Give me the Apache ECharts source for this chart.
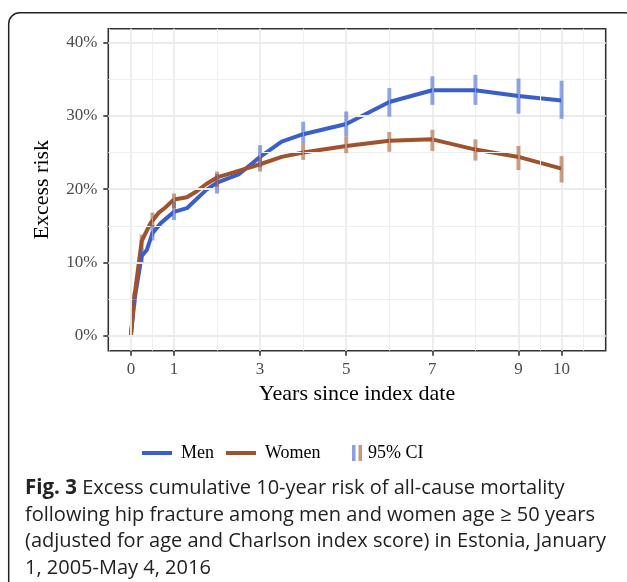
<!DOCTYPE html>
<html><head><meta charset="utf-8">
<script src="https://cdn.jsdelivr.net/npm/echarts@6/dist/echarts.min.js"></script>
<style>html,body{margin:0;padding:0;background:#fff}#c{width:627px;height:582px}</style>
</head><body><div id="c"></div>
<script>
// ---- data ----
const menT   = [0, 0.083, 0.25, 0.37, 0.5, 0.7, 1.0, 1.3, 1.75, 2.0, 2.5, 3.0, 3.5, 4.0, 5.0, 6.0, 7.0, 8.0, 9.0, 10.0];
const menV   = [0, 4.9, 10.9, 11.7, 14.0, 15.4, 16.9, 17.4, 19.9, 20.9, 22.0, 24.4, 26.5, 27.5, 28.9, 31.9, 33.5, 33.5, 32.7, 32.1];
const womenT = [0, 0.083, 0.25, 0.45, 0.65, 0.8, 1.0, 1.3, 1.5, 1.75, 2.0, 2.5, 3.0, 3.5, 4.0, 5.0, 6.0, 7.0, 8.0, 9.0, 10.0];
const womenV = [0, 5.4, 12.9, 15.3, 16.8, 17.5, 18.6, 18.9, 19.6, 20.7, 21.6, 22.5, 23.4, 24.4, 25.0, 25.9, 26.6, 26.8, 25.4, 24.4, 22.8];
const ciT      = [0.083, 0.25, 0.5, 1, 2, 3, 4, 5, 6, 7, 8, 9, 10];
const menLo    = [4.1, 10.0, 13.0, 15.8, 19.4, 23.0, 26.2, 27.2, 29.9, 31.5, 31.5, 30.3, 29.6];
const menHi    = [5.6, 11.9, 15.1, 18.3, 22.1, 26.0, 29.2, 30.6, 33.8, 35.4, 35.6, 35.1, 34.8];
const womenLo  = [4.6, 11.8, 14.9, 17.4, 20.3, 22.4, 24.0, 24.9, 25.1, 25.2, 23.9, 22.6, 20.9];
const womenHi  = [6.0, 13.8, 16.8, 19.4, 22.4, 24.4, 26.2, 27.2, 27.8, 28.1, 26.8, 25.9, 24.5];
const xTicks = [0, 1, 3, 5, 7, 9, 10];
const xMinorGrid = [-0.5, 0.5, 2, 4, 6, 8, 9.5, 10.5];
const yTicks = [0, 10, 20, 30, 40];
const yMinorGrid = [5, 15, 25, 35];
const seriesNames = ['Men', 'Women'];
const ciLabel = '95% CI';
const xTitle = 'Years since index date';
const yTitle = 'Excess risk';
const caption = 'Excess cumulative 10-year risk of all-cause mortality\nfollowing hip fracture among men and women age \u2265 50 years\n(adjusted for age and Charlson index score) in Estonia, January\n1, 2005-May 4, 2016';
const captionLead = 'Fig. 3';

// ---- styles ----
const BLUE = '#3a5fcd', BROWN = '#a0522d';
const BLUE_CI = 'rgba(58,95,205,0.55)', BROWN_CI = 'rgba(160,82,45,0.55)';
const SERIF = '"Liberation Serif", "DejaVu Serif", serif';
const GRID_C = '#ebebeb';

const zip = (a, b) => a.map((v, i) => [v, b[i]]);
const ciData = (lo, hi) => ciT.map((t, i) => [t, lo[i], hi[i]]);

function ciRender(color) {
  return function (params, api) {
    const t = api.value(0);
    const top = api.coord([t, api.value(2)]);
    const bot = api.coord([t, api.value(1)]);
    const w = 4;
    return { type: 'rect', shape: { x: top[0] - w / 2, y: top[1], width: w, height: bot[1] - top[1] },
             style: { fill: color } };
  };
}

const major = { type: 'solid', width: 1.8, color: GRID_C };
const minor = { type: 'solid', width: 1, color: '#efefef' };
const gridLines = []
  .concat(xTicks.map(v => ({ xAxis: v, lineStyle: major })))
  .concat(xMinorGrid.map(v => ({ xAxis: v, lineStyle: minor })))
  .concat(yTicks.map(v => ({ yAxis: v, lineStyle: major })))
  .concat(yMinorGrid.map(v => ({ yAxis: v, lineStyle: minor })));

const chart = echarts.init(document.getElementById('c'));
chart.setOption({
  animation: false,
  backgroundColor: '#fff',
  grid: { left: 108.3, top: 28.7, right: 21.3, bottom: 231.3, show: true, borderColor: '#333', borderWidth: 1.6, backgroundColor: 'transparent' },
  xAxis: {
    type: 'value', min: -0.525, max: 11.025,
    axisLine: { show: false, onZero: false },
    axisTick: { show: true, customValues: xTicks, length: 5, lineStyle: { color: '#333', width: 1.6 } },
    axisLabel: { customValues: xTicks, margin: 10, color: '#4d4d4d', fontFamily: SERIF, fontSize: 17 },
    splitLine: { show: false }, minorSplitLine: { show: false },
    name: xTitle, nameLocation: 'middle', nameGap: 33,
    nameTextStyle: { fontFamily: SERIF, fontSize: 22, color: '#000' }
  },
  yAxis: {
    type: 'value', min: -2.05, max: 41.9,
    axisLine: { show: false, onZero: false },
    axisTick: { show: true, customValues: yTicks, length: 5, lineStyle: { color: '#333', width: 1.6 } },
    axisLabel: { customValues: yTicks, margin: 11, color: '#4d4d4d', fontFamily: SERIF, fontSize: 17, formatter: v => v + '%' },
    splitLine: { show: false }, minorSplitLine: { show: false },
    name: yTitle, nameLocation: 'middle', nameGap: 55, nameRotate: 90,
    nameTextStyle: { fontFamily: SERIF, fontSize: 22, color: '#000' }
  },
  legend: {
    data: seriesNames, left: 142, top: 444, itemWidth: 30, itemHeight: 4, itemGap: 12, icon: 'rect',
    padding: 0, selectedMode: false,
    textStyle: { fontFamily: SERIF, fontSize: 18, color: '#000', padding: [0, 0, 0, 4] }
  },
  series: [
    { type: 'line', name: '_grid', data: [], z: 0, silent: true,
      markLine: { silent: true, symbol: ['none', 'none'], label: { show: false }, animation: false,
                  emphasis: { disabled: true }, data: gridLines } },
    { type: 'line', name: seriesNames[0], data: zip(menT, menV), symbol: 'none', z: 3,
      lineStyle: { color: BLUE, width: 4 }, itemStyle: { color: BLUE } },
    { type: 'line', name: seriesNames[1], data: zip(womenT, womenV), symbol: 'none', z: 4,
      lineStyle: { color: BROWN, width: 4 }, itemStyle: { color: BROWN } },
    { type: 'custom', name: 'menCI', data: ciData(menLo, menHi), renderItem: ciRender(BLUE_CI), z: 5, encode: { x: 0, y: [1, 2] } },
    { type: 'custom', name: 'womenCI', data: ciData(womenLo, womenHi), renderItem: ciRender(BROWN_CI), z: 6, encode: { x: 0, y: [1, 2] } }
  ],
  graphic: [
    { type: 'rect', shape: { x: 8.7, y: 12.7, width: 627, height: 620, r: 11 }, style: { fill: 'none', stroke: '#222', lineWidth: 1.5 }, silent: true },
    { type: 'rect', shape: { x: 352, y: 445, width: 3.5, height: 16 }, style: { fill: 'rgba(58,95,205,0.6)' } },
    { type: 'rect', shape: { x: 358.5, y: 445, width: 3.5, height: 16 }, style: { fill: 'rgba(160,82,45,0.6)' } },
    { type: 'text', x: 368, y: 453, style: { text: ciLabel, fontFamily: SERIF, fontSize: 18, fill: '#000', verticalAlign: 'middle' } },
    { type: 'text', x: 25, y: 475, style: {
        text: '{b|' + captionLead + '} ' + caption,
        fontFamily: '"Open Sans", sans-serif', fontSize: 20, lineHeight: 26.7, fill: '#222',
        rich: { b: { fontFamily: '"Open Sans", sans-serif', fontWeight: 'bold', fontSize: 20.5, lineHeight: 26.7, fill: '#222' } }
    } }
  ]
});
</script></body></html>
